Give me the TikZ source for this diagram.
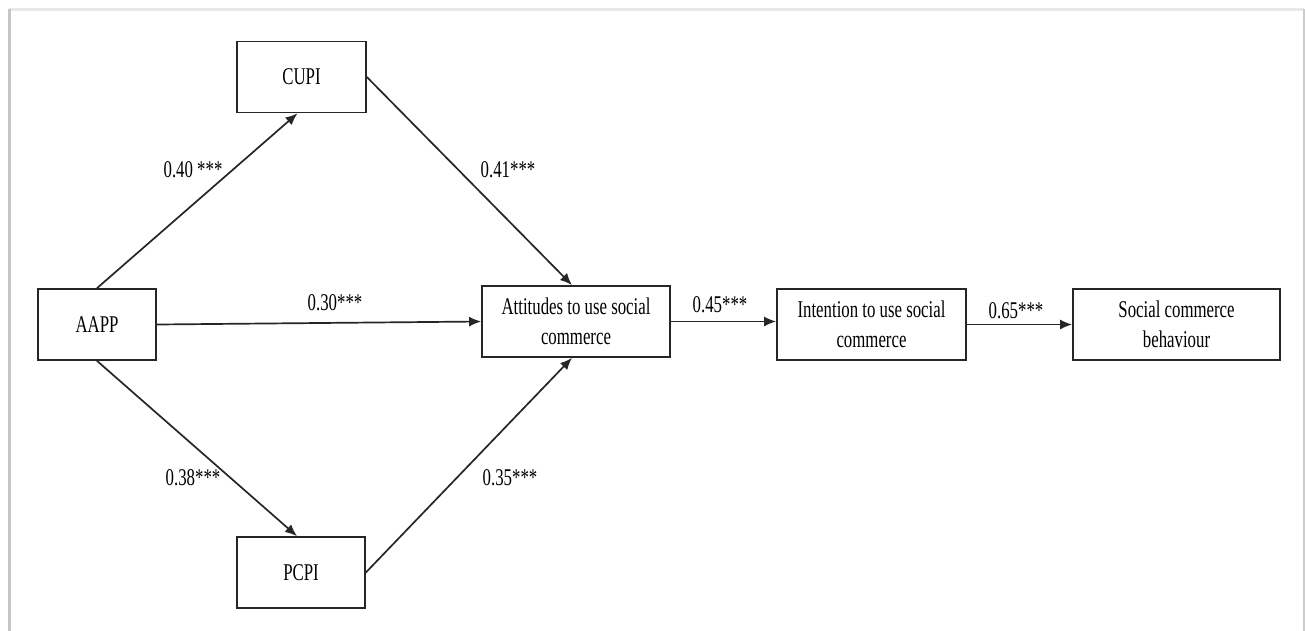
\documentclass[tikz,border=0pt]{standalone}
\usepackage{fontspec}
\setmainfont{Liberation Serif}[FakeStretch=0.7]
\usetikzlibrary{arrows.meta}
\begin{document}
\begin{tikzpicture}[x=1pt,y=-1pt,
  box/.style={draw=black!85,line width=1.7pt,minimum width=#1,minimum height=71pt,inner sep=0pt,align=center,font=\fontsize{24}{30}\selectfont},
  lbl/.style={inner sep=0pt,font=\fontsize{24}{30}\selectfont},
  arr/.style={line width=1.7pt,draw=black!85,-{Latex[length=12pt,width=10pt]}}]
\useasboundingbox (0,0) rectangle (1305,630);
\fill[white] (0,0) rectangle (1305,630);
% frame
\draw[gray!18,line width=3pt] (9,9) -- (1304,9);
\draw[gray!45,line width=3pt] (9,9) -- (9,632);
\draw[gray!40,line width=2pt] (1304,9) -- (1304,632);
% nodes
\node[box=129] (cupi) at (301.5,77) {CUPI};
\node[box=118] (aapp) at (97,324.5) {AAPP};
\node[box=188] (att) at (576,321.5) {Attitudes to use social\\commerce};
\node[box=189] (int) at (871.5,324.5) {Intention to use social\\commerce};
\node[box=207] (scb) at (1176.5,324.5) {Social commerce\\behaviour};
\node[box=128] (pcpi) at (301,572.5) {PCPI};
% connectors
\draw[arr] (aapp.north) -- ([xshift=-4pt]cupi.south);
\draw[arr] (aapp.south) -- ([xshift=-4pt]pcpi.north);
\draw[arr] (aapp.east) -- (att.west);
\draw[arr] (cupi.east) -- ([xshift=-4pt]att.north);
\draw[arr] (pcpi.east) -- ([xshift=-4pt]att.south);
\draw[arr] (att.east) -- (att.east -| int.west);
\draw[arr] (int.east) -- (scb.west);
% labels
\node[lbl] (l1) at (193,170) {0.40 ***};
\node[lbl] (l2) at (508,170) {0.41***};
\node[lbl] (l3) at (335,303) {0.30***};
\node[lbl] (l4) at (193,478) {0.38***};
\node[lbl] (l5) at (510,478) {0.35***};
\node[lbl] (l6) at (720,305) {0.45***};
\node[lbl] (l7) at (1016,311) {0.65***};
\end{tikzpicture}
\end{document}
